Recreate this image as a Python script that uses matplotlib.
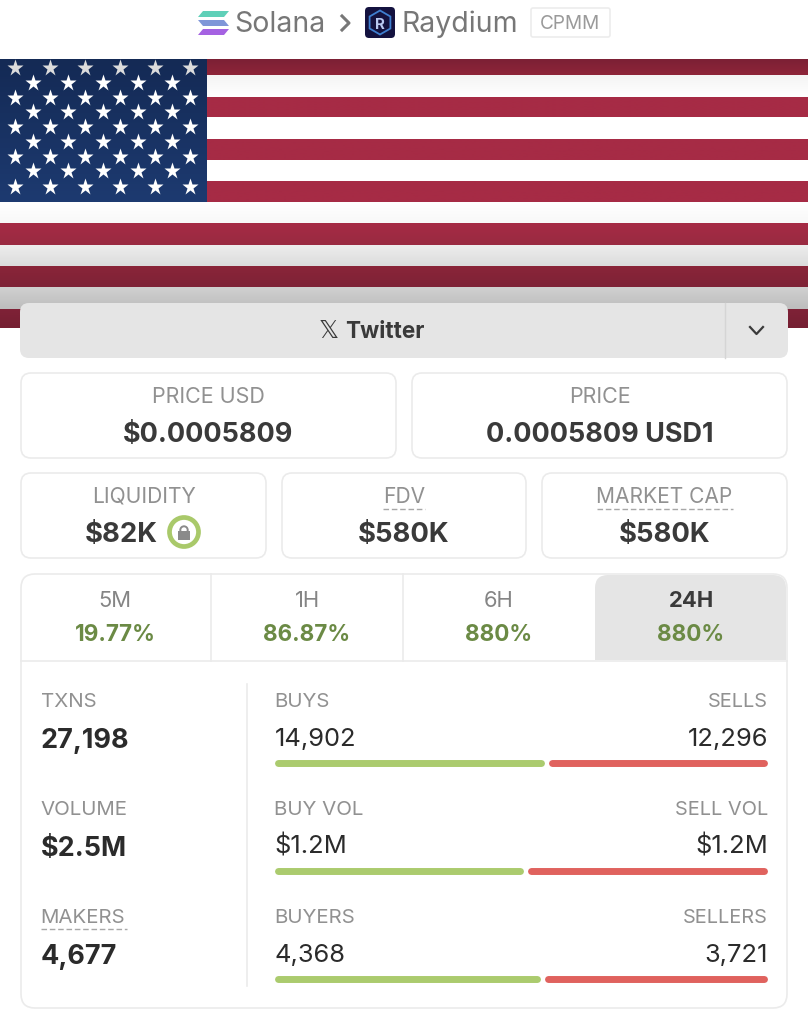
import matplotlib
matplotlib.use('Agg')
import matplotlib.pyplot as plt
import numpy as np
from matplotlib.patches import FancyBboxPatch, Rectangle, Circle, Polygon, RegularPolygon

# values
top_labels = ['PRICE USD', 'PRICE']
top_values = ['$0.0005809', '0.0005809 USD1']
mid_labels = ['LIQUIDITY', 'FDV', 'MARKET CAP']
mid_values = ['$82K', '$580K', '$580K']
tab_labels = ['5M', '1H', '6H', '24H']
tab_changes = ['19.77%', '86.87%', '880%', '880%']
left_labels = ['TXNS', 'VOLUME', 'MAKERS']
left_values = ['27,198', '$2.5M', '4,677']
buy_labels = ['BUYS', 'BUY VOL', 'BUYERS']
sell_labels = ['SELLS', 'SELL VOL', 'SELLERS']
buy_texts = ['14,902', '$1.2M', '4,368']
sell_texts = ['12,296', '$1.2M', '3,721']
buy_amounts = [14902, 1.22, 4368]
sell_amounts = [12296, 1.20, 3721]

FONT = 'Inter'
GREY = '#919191'
DARK = '#3a3a3a'
INK = '#2b2b2b'
GREEN_TXT = '#6b8a45'
BORDER = '#ebebeb'
PX = 0.72  # px to points at dpi 100

plt.rcParams['font.family'] = [FONT, 'DejaVu Sans']

fig = plt.figure(figsize=(8.08, 10.24), dpi=100)
ax = fig.add_axes([0, 0, 1, 1])
ax.set_xlim(0, 808)
ax.set_ylim(1024, 0)
ax.axis('off')


def txt(x, y, s, px, color=GREY, ha='center', weight='normal', **kw):
    return ax.text(x, y, s, fontsize=px * PX, color=color, ha=ha, va='baseline', fontweight=weight, **kw)


def box(x0, y0, x1, y1, r=10, fc='white', ec=BORDER, lw=1.2, z=3):
    p = FancyBboxPatch((x0, y0), x1 - x0, y1 - y0, boxstyle=f'round,pad=0,rounding_size={r}',
                       fc=fc, ec=ec, lw=lw, zorder=z)
    ax.add_patch(p)
    return p


def grad(x0, y0, x1, y1, c_top, c_bot, z=1):
    cols = np.linspace(matplotlib.colors.to_rgb(c_top), matplotlib.colors.to_rgb(c_bot), 32)[:, None, :]
    ax.imshow(cols, extent=(x0, x1, y1, y0), aspect='auto', zorder=z, interpolation='bilinear')


# header
for y, c1 in [(11, '#5fd0b8'), (20, '#7f96d8'), (29, '#a562e2')]:
    ax.add_patch(Polygon([(203, y), (229, y), (224, y + 6), (198, y + 6)] if y != 20 else
                         [(198, y), (224, y), (229, y + 6), (203, y + 6)], fc=c1, ec='none', zorder=3))
txt(234, 32, 'Solana', 28.5, color='#777777', ha='left')
ax.plot([342, 349, 342], [16, 23, 30], color='#777777', lw=2.2, zorder=3)
box(365, 7, 395, 38, r=4, fc='#14123f', ec='none')
ax.add_patch(RegularPolygon((380, 22.5), 6, radius=12, fc='none', ec='#3f7fd0', lw=1.3, zorder=4))
txt(380, 29, 'R', 15, color='#b8c8f0', weight='bold', zorder=5)
txt(402, 32, 'Raydium', 28.5, color='#777777', ha='left')
box(531, 8, 610, 37, r=2, ec='#ececec')
txt(570, 29, 'CPMM', 19, color='#9a9a9a', zorder=5)

# flag
stripe_edges = [59, 75, 97, 117, 139, 160, 181, 202, 223, 245, 266, 287, 309, 328]
stripe_cols = [('#7c2035', '#8e2539'), ('#f4f4f4', '#ffffff'), ('#a62b45', '#a62b45'), ('#ffffff', '#ffffff'),
               ('#a62b45', '#a62b45'), ('#ffffff', '#ffffff'), ('#a62b45', '#a62b45'), ('#ffffff', '#f8f8f8'),
               ('#a62b45', '#992a41'), ('#ededed', '#dcdcdc'), ('#8a2539', '#7e2236'), ('#d0d0d0', '#bdbdbd'),
               ('#7f2237', '#751f32')]
for i, (c1, c2) in enumerate(stripe_cols):
    grad(207 if i < 7 else 0, stripe_edges[i], 808, stripe_edges[i + 1], c1, c2)
grad(0, 59, 207, 202, '#142a55', '#1d3a70', z=1.5)
star_ms = 12.5
ax.plot([15, 50, 85, 120, 155, 190], [68] * 6, ls='none', marker='*', ms=star_ms, mfc='#dcdcdc', mec='none', zorder=2)
for y in [98, 127, 157, 187]:
    ax.plot([15, 50, 85, 120, 155, 190], [y] * 6, ls='none', marker='*', ms=star_ms, mfc='white', mec='none', zorder=2)
for y in [83, 112, 142, 171]:
    ax.plot([33, 68, 103, 138, 172], [y] * 5, ls='none', marker='*', ms=star_ms, mfc='white', mec='none', zorder=2)
ax.set_xlim(0, 808)
ax.set_ylim(1024, 0)

# twitter button
box(20, 303, 788, 358, r=9, fc='#e5e5e5', ec='none', z=3)
ax.plot([725, 725], [303, 358], color='#d5d5d5', lw=1, zorder=4)
ax.text(328.5, 338, '\U0001D54F', fontsize=25 * PX, color=DARK, ha='center', va='baseline',
        family='DejaVu Sans', zorder=5)
txt(345, 338, 'Twitter', 22.5, color=DARK, ha='left', weight='bold', zorder=5)
ax.plot([750, 756.5, 763], [327, 334, 327], color=DARK, lw=1.6, zorder=5)

# price cards
for (x0, x1), label, value in zip([(21, 396), (412, 787)], top_labels, top_values):
    box(x0, 373, x1, 458)
    txt((x0 + x1) / 2, 403, label, 21.5, zorder=5)
    txt((x0 + x1) / 2, 442, value, 27, color=DARK, weight='bold', zorder=5)

# liquidity / fdv / market cap cards
for i, ((x0, x1), label, value) in enumerate(zip([(21, 266), (282, 526), (542, 787)], mid_labels, mid_values)):
    box(x0, 473, x1, 558)
    xc = (x0 + x1) / 2
    txt(xc, 503, label, 21, zorder=5)
    txt(121 if i == 0 else xc, 542, value, 27.5, color=DARK, weight='bold', zorder=5)
ax.plot([383, 425], [509, 509], color='#a8a8a8', lw=1, ls=(0, (4, 2)), zorder=5)
ax.plot([597, 733], [509, 509], color='#a8a8a8', lw=1, ls=(0, (4, 2)), zorder=5)

# locked liquidity icon
ax.add_patch(Circle((184, 532), 14.5, fc='white', ec='#a9c96a', lw=3.4, zorder=5))
ax.add_patch(Rectangle((178, 531), 12, 9, fc='#8a8a8a', ec='none', zorder=6))
ax.add_patch(Circle((184, 530), 3.7, fc='none', ec='#8a8a8a', lw=1.4, zorder=6))

# stats panel
box(21, 574, 787, 1008, r=14)
box(595, 575, 786, 640, r=13, fc='#e5e5e5', ec='none', z=3.2)
ax.add_patch(Rectangle((595, 590), 191, 70, fc='#e5e5e5', ec='none', zorder=3.2))
ax.plot([21, 787], [661, 661], color=BORDER, lw=1.2, zorder=4)
for x in [211, 403]:
    ax.plot([x, x], [574, 661], color=BORDER, lw=1.2, zorder=4)
for i, (xc, label, change) in enumerate(zip([115, 307, 499, 691], tab_labels, tab_changes)):
    active = label == '24H'
    txt(xc, 607, label, 22, color=DARK if active else '#858585', weight='bold' if active else 'normal', zorder=5)
    txt(xc, 641, change, 22.5, color=GREEN_TXT, weight='bold', zorder=5)

ax.plot([247, 247], [684, 986], color=BORDER, lw=1.2, zorder=4)
row_y = [707, 815, 923]
for y, label, value in zip(row_y, left_labels, left_values):
    txt(40.5, y, label, 20.5, ha='left', zorder=5)
    txt(40.5, y + 41, value, 27, color=INK, ha='left', weight='bold', zorder=5)
ax.plot([41, 127], [929, 929], color='#a8a8a8', lw=1, ls=(0, (4, 2)), zorder=5)

# buy / sell rows, the bar split comes from the amounts
bar_left, bar_right = 274.5, 767.5
for y, bl, sl, bt, st, b, s in zip(row_y, buy_labels, sell_labels, buy_texts, sell_texts, buy_amounts, sell_amounts):
    txt(274.5, y, bl, 20.5, ha='left', zorder=5)
    txt(768, y, sl, 20, ha='right', zorder=5)
    txt(274.5, y + 39, bt, 25.5, color=INK, ha='left', zorder=5)
    txt(768, y + 39, st, 25.5, color=INK, ha='right', zorder=5)
    split = bar_left + (bar_right - bar_left) * b / (b + s)
    yb = y + 56
    ax.plot([bar_left + 3.5, split - 3.5], [yb, yb], color='#abcb6e', lw=5, solid_capstyle='round', zorder=5)
    ax.plot([split + 7.5, bar_right - 3.5], [yb, yb], color='#e0625e', lw=5, solid_capstyle='round', zorder=5)

fig.savefig('out.png', dpi=100)
